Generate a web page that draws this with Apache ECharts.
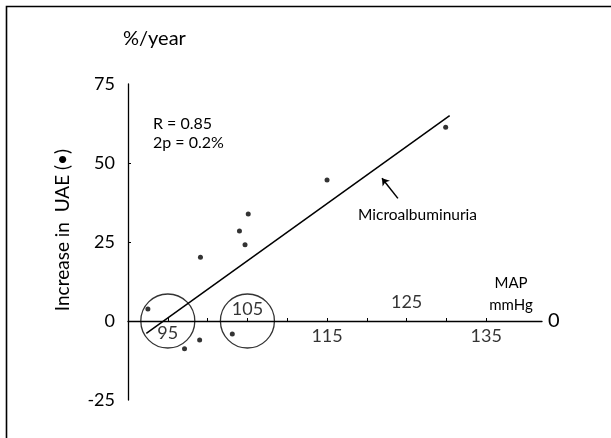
<!DOCTYPE html>
<html><head><meta charset="utf-8">
<script src="https://cdn.jsdelivr.net/npm/echarts@6/dist/echarts.min.js"></script>
<style>html,body{margin:0;padding:0;background:#fff}#c{width:611px;height:438px}</style>
</head><body><div id="c"></div>
<script>
// MAP (mmHg) vs increase in UAE (%/year)
const mapX = [92.5, 97.1, 99.0, 103.1, 99.1, 104.0, 104.7, 105.1, 115.0, 129.9];
const uaeY = [3.8, -8.8, -6.0, -4.1, 20.2, 28.5, 24.1, 33.9, 44.6, 61.3];
// regression line end points
const fitX = [92.3, 130.4];
const fitY = [-3.9, 65.0];
// circled reference values
const circleX = [95, 105];
const circleY = [0, 0];
// axis ticks / labels
const yTickLabels = [-25, 0, 25, 50, 75];
const yTickMarks = [25, 50];
const xLabelsBelow = [95, 115, 135];
const xLabelsAbove = [105, 125];
const xTickMarks = [95, 100, 105, 110, 115, 120, 125, 130, 135];
// arrow pointing at the regression line
const arrowFrom = [123.9, 38.8];
const arrowTo = [121.9, 45.2];

const FONT = 'Lato';
const chart = echarts.init(document.getElementById('c'), null, {renderer: 'canvas'});

function tickLabelSeries(name, values, position, distFn) {
  return {
    name: name, type: 'scatter', silent: true, symbol: 'circle', symbolSize: 1,
    itemStyle: {color: 'rgba(0,0,0,0)'},
    data: values.map(v => ({value: [v, 0], label: {distance: distFn(v)}})),
    label: {show: true, position: position, formatter: p => String(p.value[0]),
      fontFamily: FONT, fontSize: 18, color: '#000'},
    z: 6
  };
}

chart.setOption({
  backgroundColor: '#fff',
  animation: false,
  grid: {left: 128, top: 84, right: 69, bottom: 38, containLabel: false},
  xAxis: {
    type: 'value', min: 90, max: 142,
    name: '0', nameLocation: 'end', nameGap: 6,
    nameTextStyle: {fontFamily: FONT, fontSize: 20, color: '#000', verticalAlign: 'middle'},
    splitLine: {show: false},
    axisLine: {show: true, onZero: true, lineStyle: {color: '#000', width: 1.3}},
    axisTick: {show: true, inside: true, length: 3, customValues: xTickMarks, lineStyle: {color: '#000', width: 1}},
    axisLabel: {show: false}
  },
  yAxis: {
    type: 'value', min: -25, max: 75, interval: 25,
    name: 'Increase in  UAE (\u2022)', nameLocation: 'middle', nameRotate: 90, nameGap: 56,
    nameTextStyle: {fontFamily: FONT, fontSize: 19, color: '#000', padding: [0, 0, 0, 24]},
    splitLine: {show: false},
    axisLine: {show: true, onZero: false, lineStyle: {color: '#000', width: 1.3}},
    axisTick: {show: true, inside: true, length: 3, customValues: yTickMarks, lineStyle: {color: '#000'}},
    axisLabel: {customValues: yTickLabels, margin: 13, fontFamily: FONT, fontSize: 18, color: '#000'}
  },
  series: [
    {
      name: 'circles', type: 'scatter', silent: true,
      symbol: 'circle', symbolSize: 54,
      itemStyle: {color: 'rgba(0,0,0,0)', borderColor: '#000', borderWidth: 1.3},
      data: circleX.map((x, i) => [x, circleY[i]]),
      z: 3
    },
    {
      name: 'Microalbuminuria', type: 'line', silent: true,
      showSymbol: false, symbol: 'none',
      lineStyle: {color: '#000', width: 1.5},
      data: fitX.map((x, i) => [x, fitY[i]]),
      markLine: {
        silent: true, symbolSize: 7, label: {show: false},
        lineStyle: {color: '#000', width: 1.5, type: 'solid'},
        data: [[{coord: arrowFrom, symbol: 'none'}, {coord: arrowTo, symbol: 'arrow'}]]
      },
      z: 4
    },
    {
      name: 'UAE', type: 'scatter', silent: true,
      symbol: 'circle', symbolSize: 5,
      itemStyle: {color: '#000'},
      data: mapX.map((x, i) => [x, uaeY[i]]),
      z: 5
    },
    tickLabelSeries('xLabelsBelow', xLabelsBelow, 'bottom', v => v === 95 ? 3 : 6),
    tickLabelSeries('xLabelsAbove', xLabelsAbove, 'top', v => v === 105 ? 2 : 9)
  ],
  graphic: [
    {type: 'polyline', silent: true, shape: {points: [[6.5, 438], [6.5, 6.5], [611, 6.5]]}, style: {stroke: '#000', lineWidth: 1.6, fill: null}},
    {type: 'text', left: 123, top: 29, style: {text: '%/year', font: '20px ' + FONT, fill: '#000'}},
    {type: 'text', x: 153, y: 124, style: {text: 'R = 0.85', font: '16px ' + FONT, fill: '#000', verticalAlign: 'middle'}},
    {type: 'text', x: 153, y: 143, style: {text: '2p = 0.2%', font: '16px ' + FONT, fill: '#000', verticalAlign: 'middle'}},
    {type: 'text', x: 358, y: 215, style: {text: 'Microalbuminuria', font: '15.5px ' + FONT, fill: '#000', verticalAlign: 'middle'}},
    {type: 'text', x: 511, y: 283, style: {text: 'MAP', font: '15px ' + FONT, fill: '#000', align: 'center', verticalAlign: 'middle'}},
    {type: 'text', x: 511, y: 305, style: {text: 'mmHg', font: '15px ' + FONT, fill: '#000', align: 'center', verticalAlign: 'middle'}}
  ]
});
</script>
</body></html>
